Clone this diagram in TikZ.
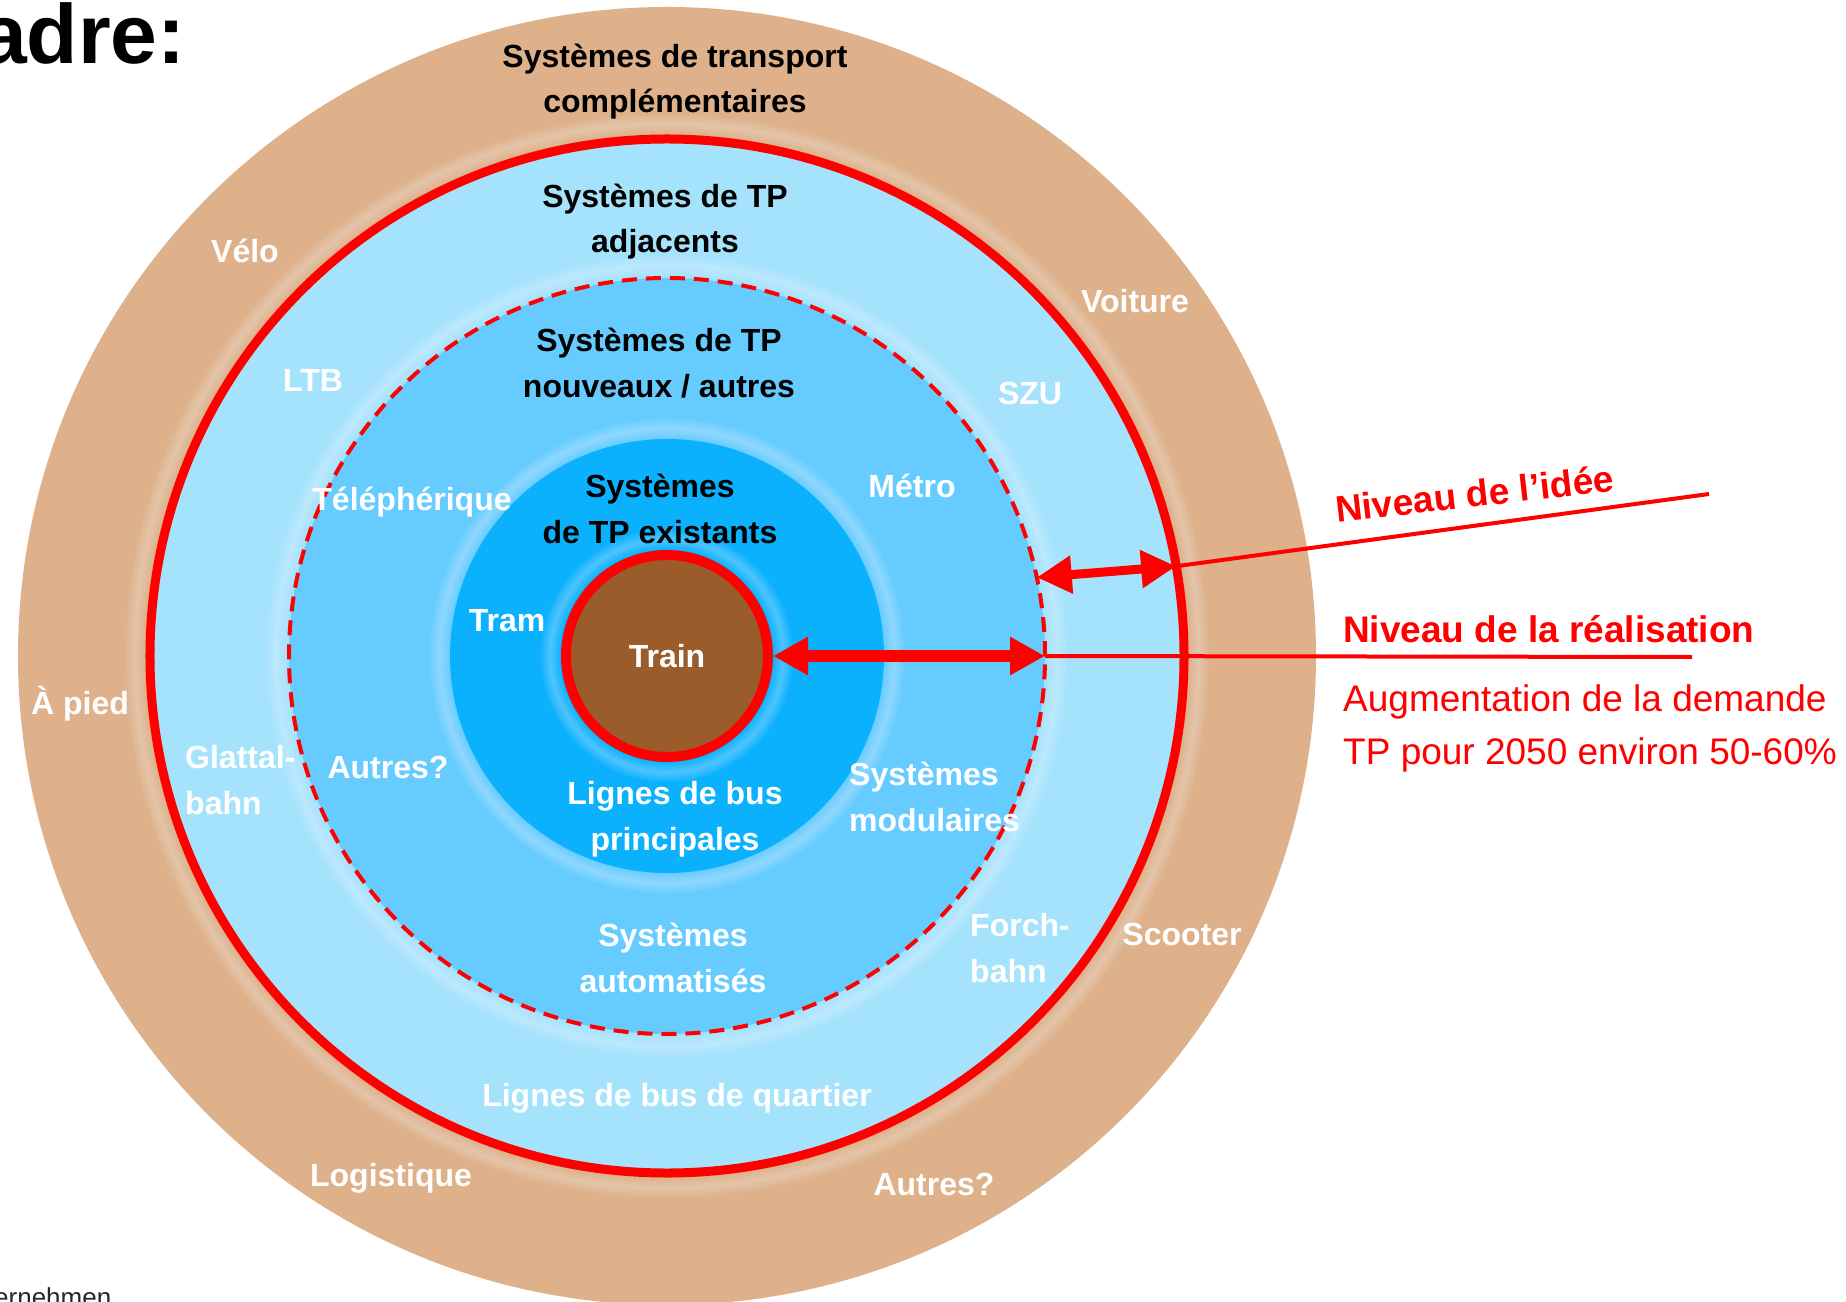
\documentclass[tikz,border=0pt]{standalone}
\usepackage{fontspec}
\setmainfont{Liberation Sans}
\usetikzlibrary{arrows.meta}

\definecolor{tanc}{HTML}{DEB18B}
\definecolor{lightb}{HTML}{A5E3FD}
\definecolor{midb}{HTML}{66CCFF}
\definecolor{brightb}{HTML}{0CB1FE}
\definecolor{brownc}{HTML}{9A5C2A}

\begin{document}
\begin{tikzpicture}[x=1bp,y=-1bp,
  ring node/.style={circle,inner sep=0pt,outer sep=0pt},
  dark node/.style={font=\fontsize{32bp}{45.5bp}\selectfont\bfseries,align=center,inner sep=0pt},
  light node/.style={dark node,text=white},
  red node/.style={text=red,font=\fontsize{37bp}{53bp}\selectfont\bfseries,inner sep=0pt},
  level arrow/.style={{Triangle[length=35bp,width=36bp]}-{Triangle[length=35bp,width=36bp]},red}]
  \useasboundingbox (0,0) rectangle (1846,1302);
  \coordinate (c) at (667,656);

  % rings
  \node[ring node,fill=tanc,minimum size=1298bp] (outer) at (c) {};
  \node[ring node,fill=lightb,draw=red,line width=9bp,minimum size=1034bp] (adj) at (c) {};
  \node[ring node,fill=midb,draw=red,line width=4bp,dash pattern=on 15bp off 9bp,minimum size=756bp] (nouv) at (c) {};
  \node[ring node,fill=brightb,minimum size=434bp] (exist) at (c) {};
  % soft light halo outside each ring
  \foreach \r in {521.5,380,217,106}
    \foreach \k [evaluate=\k as \w using 3*\k, evaluate=\k as \rr using \r+1.5*\k] in {1,...,10}
      \draw[white,opacity=.06,line width=\w bp] (c) circle[radius=\rr bp];
  \node[ring node,light node,fill=brownc,draw=red,line width=10bp,outer sep=5bp,minimum size=202bp] (train) at (c) {Train};

  % levels
  \coordinate (idea end) at (1709,494);
  \coordinate (real end) at (1692,657);
  \path[red,line width=4bp]
    (adj.10.5) edge (idea end)
    (nouv.east) edge (real end);
  \path[level arrow,line width=12bp] (train.east) edge (nouv.east);
  \path[level arrow,line width=9bp] (nouv.12) edge (adj.10.5);

  % labels
  \node[dark node] (compl) at (675,81.5) {Systèmes de transport\\complémentaires};
  \node[dark node] (adjt) at (665,221.5) {Systèmes de TP\\adjacents};
  \node[dark node] (nouvt) at (659,363) {Systèmes de TP\\nouveaux / autres};
  \node[dark node] (existt) at (660,509) {Systèmes\\de TP existants};
  \node[light node] (tram) at (507,621) {Tram};
  \node[light node] (bus) at (675,819) {Lignes de bus\\principales};
  \node[light node,align=left,anchor=west] (modul) at (849,797) {Systèmes\\modulaires};
  \node[light node] (metro) at (912,486) {Métro};
  \node[light node] (tele) at (412,502.5) {Téléphérique};
  \node[light node] (autres1) at (388,767) {Autres?};
  \node[light node] (auto) at (673,958) {Systèmes\\automatisés};
  \node[light node] (szu) at (1030,393) {SZU};
  \node[light node] (ltb) at (313,380) {LTB};
  \node[light node,align=left,anchor=west] (glatt) at (185,780) {Glattal-\\bahn};
  \node[light node,align=left,anchor=west] (forch) at (970,948) {Forch-\\bahn};
  \node[light node] (quart) at (677,1098.5) {Lignes de bus de quartier};
  \node[light node] (velo) at (245,251) {Vélo};
  \node[light node] (voit) at (1135,301) {Voiture};
  \node[light node] (pied) at (80,704) {À pied};
  \node[light node] (scoot) at (1182,934) {Scooter};
  \node[light node] (logi) at (391,1178.5) {Logistique};
  \node[light node] (autres2) at (934,1184) {Autres?};

  \node[red node,rotate=6.5,anchor=base] (idea) at (1476,507) {Niveau de l’idée};
  \node[red node,anchor=base west] (real) at (1343,642) {Niveau de la réalisation};
  \node[red node,font=\fontsize{37bp}{53bp}\selectfont,align=left,anchor=north west] (demand) at (1343,684) {Augmentation de la demande\\TP pour 2050 environ 50-60\%};

  \node[font=\fontsize{84bp}{100bp}\selectfont\bfseries,anchor=base west,inner sep=0pt] (title) at (-20,64) {adre:};
  \node[font=\fontsize{26bp}{30bp}\selectfont,text=black!85,anchor=base west,inner sep=0pt] (foot) at (-6,1306) {ernehmen};
\end{tikzpicture}
\end{document}
